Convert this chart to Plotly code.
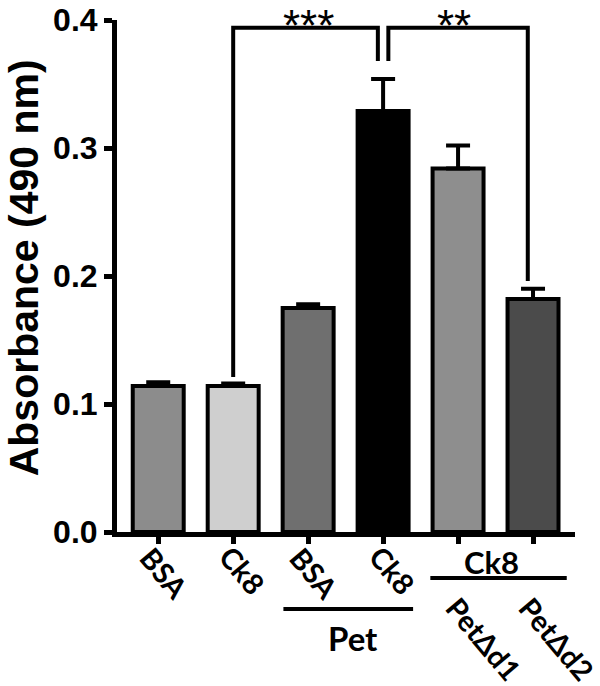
import plotly.graph_objects as go

categories = ["BSA", "Ck8", "Pet BSA", "Pet Ck8", "PetΔd1 Ck8", "PetΔd2 Ck8"]
tick_labels = ["BSA", "Ck8", "BSA", "Ck8", "PetΔd1", "PetΔd2"]
values = [0.114, 0.114, 0.175, 0.329, 0.284, 0.182]
errors = [0.003, 0.002, 0.003, 0.025, 0.018, 0.008]
colors = ["#8c8c8c", "#cfcfcf", "#6f6f6f", "#000000", "#8e8e8e", "#4b4b4b"]

x = list(range(len(categories)))

fig = go.Figure()
fig.add_trace(go.Bar(
    x=x, y=values, width=0.68,
    marker=dict(color=colors, line=dict(color="black", width=4)),
    error_y=dict(type="data", symmetric=False, array=errors,
                 arrayminus=[0] * len(errors),
                 color="black", thickness=4, width=12),
    showlegend=False,
))

AX = "Liberation Sans, Arial, sans-serif"
LAB = "Lato, Calibri, sans-serif"

fig.update_layout(
    width=600, height=686,
    margin=dict(l=117, r=25, t=20, b=154),
    plot_bgcolor="white", paper_bgcolor="white",
    xaxis=dict(range=[-0.55, 5.56], tickvals=x, ticktext=[""] * 6,
               showline=True, linecolor="black", linewidth=5,
               ticks="outside", ticklen=7, tickwidth=5, tickcolor="black",
               showgrid=False, zeroline=False, automargin=False),
    yaxis=dict(range=[0, 0.4], dtick=0.1, tickformat=".1f",
               showline=True, linecolor="black", linewidth=5,
               ticks="outside", ticklen=8, tickwidth=5, tickcolor="black",
               showgrid=False, zeroline=False, automargin=False,
               tickfont=dict(family=AX, size=32, color="black", weight="bold")),
)

ann = []
# y-axis title
ann.append(dict(text="Absorbance (490 nm)", textangle=-90, xref="paper", yref="paper",
                x=(24 - 117) / 458, y=0.515, showarrow=False, xanchor="center", yanchor="middle",
                font=dict(family=AX, size=41, color="black", weight="bold")))

# rotated x labels
shifts = [(7, -41), (10, -38), (7, -41), (10, -38), (26, -106), (24, -106)]
for i, (lab, (dx, dy)) in enumerate(zip(tick_labels, shifts)):
    ann.append(dict(text=lab, textangle=50, xref="x", yref="paper", x=i, y=0,
                    xshift=dx, yshift=dy, showarrow=False,
                    xanchor="center", yanchor="middle",
                    font=dict(family=LAB, size=29, color="black", weight="bold")))

# group labels
ann.append(dict(text="Ck8", xref="x", yref="paper", x=4.45, y=0, yshift=-30,
                showarrow=False, xanchor="center", yanchor="middle",
                font=dict(family=LAB, size=31, color="black", weight="bold")))
ann.append(dict(text="Pet", xref="x", yref="paper", x=2.6, y=0, yshift=-106,
                showarrow=False, xanchor="center", yanchor="middle",
                font=dict(family=LAB, size=33, color="black", weight="bold")))

# significance stars
ann.append(dict(text="***", xref="x", yref="paper", x=2.0, y=1, yshift=21,
                showarrow=False, xanchor="center", yanchor="top",
                font=dict(family=AX, size=44, color="black")))
ann.append(dict(text="**", xref="x", yref="paper", x=3.95, y=1, yshift=21,
                showarrow=False, xanchor="center", yanchor="top",
                font=dict(family=AX, size=44, color="black")))
fig.update_layout(annotations=ann)

shapes = []
lw = dict(color="black", width=4)
# brackets
shapes.append(dict(type="path", xref="x", yref="y",
                   path="M 1,0.121 L 1,0.394 L 2.93,0.394 L 2.93,0.368", line=lw))
shapes.append(dict(type="path", xref="x", yref="y",
                   path="M 3.07,0.368 L 3.07,0.394 L 4.93,0.394 L 4.93,0.196", line=lw))
# group underlines
shapes.append(dict(type="line", xref="x", yref="paper", x0=3.63, x1=5.45,
                   y0=-46 / 512, y1=-46 / 512, line=lw))
shapes.append(dict(type="line", xref="x", yref="paper", x0=1.67, x1=3.4,
                   y0=-77 / 512, y1=-77 / 512, line=lw))
fig.update_layout(shapes=shapes)

fig.write_html("out.html", config={"displayModeBar": False},
               post_script="document.body.style.margin='0px';")
